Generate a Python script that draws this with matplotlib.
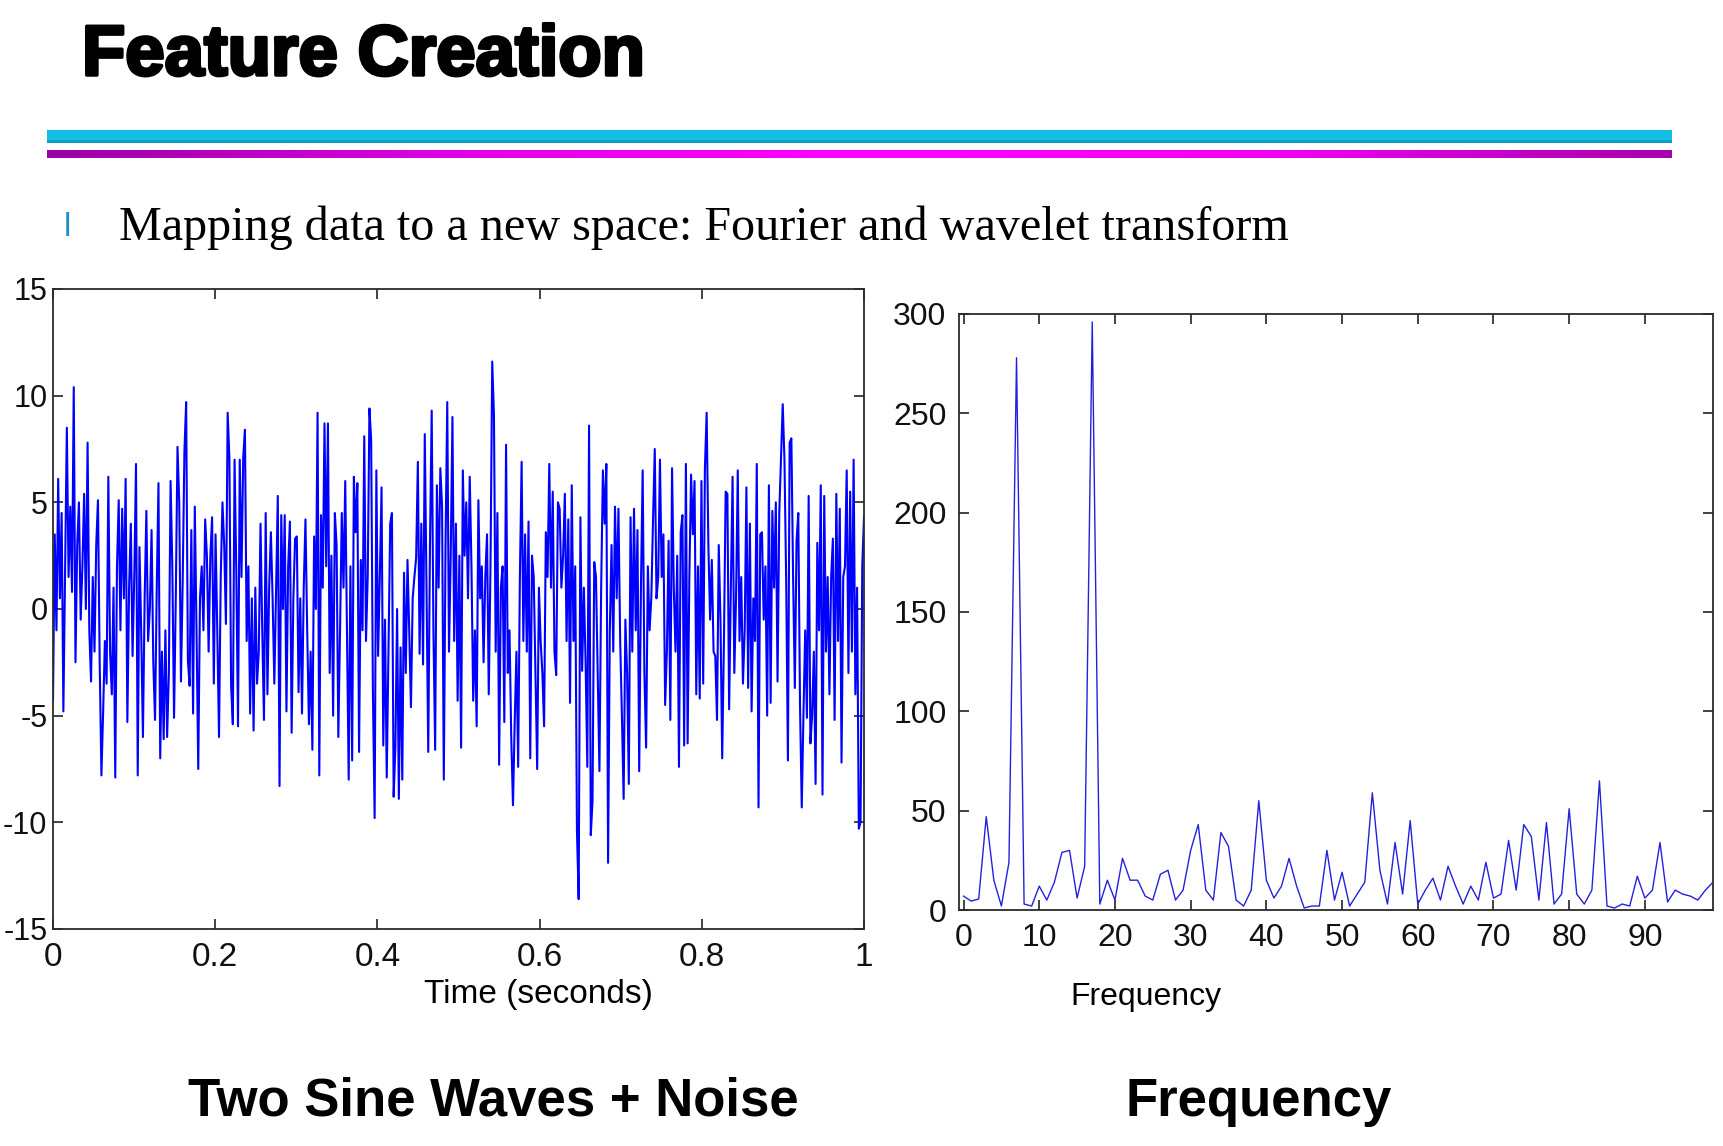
"""
Diapositiva 'Feature Creation': senal con ruido y su espectro de frecuencia.
"""

import numpy as np
import matplotlib
matplotlib.use('Agg')
from matplotlib import pyplot as plt
from matplotlib import patheffects
from matplotlib.patches import Rectangle
from matplotlib.colors import LinearSegmentedColormap

plt.rcParams['axes.unicode_minus'] = False

#%%
# Senal en el tiempo (por tramos de ~0.2 s)

TRAMO_1 = [
    -4.3, 3.5, -1.0, 6.1, 0.5, 4.5, -4.8, 2.0, 8.5, 1.5, 4.8, 0.8, 10.4, -2.5,
    3.0, 5.0, -0.5, 2.0, 5.4, 0.0, 7.8, -1.0, -3.4, 1.5, -2.0, 3.0, 5.1, -2.5,
    -7.8, -4.8, -1.5, -3.5, 6.2, -2.0, -4.0, 1.0, -7.9, 2.0, 5.1, -1.0, 4.7,
    0.5, 6.1, -5.3, 1.0, 4.0, -2.2, 1.5, 6.8, -7.8, 2.9, -1.0, -6.0, 0.5, 4.6,
    -1.5, 0.0, 3.7, -2.5, -5.2, 1.0, 5.9, -7.0, -2.0, -6.1, -1.0, -6.0, -3.0,
    6.0, 2.0, -5.1, 0.5, 7.6, 5.0, -3.4, 1.3, 7.4, 9.7, -2.4, -3.6, 3.7, -4.9,
    4.8, -1.0, -7.5, 0.5, 2.0, -1.0, 4.2, 2.5, -2.0, 2.5, 4.3, -3.5, 3.5, -1.0,
    -6.0, 1.5, 5.0, 3.0, -0.7, 9.2, 7.1, -3.6, -5.4, 7.0, 1.8,
]

TRAMO_2 = [
    -5.5, 7.0, 1.5, 7.1, 8.4, -1.5, 2.0, -4.9, 0.5, -5.7, 1.0, -3.5, -2.0, 4.0,
    -1.0, -5.2, 4.5, -4.0, 1.0, 3.6, 0.5, -3.5, 1.0, 5.3, -8.3, 4.4, 0.0, 4.4,
    -4.8, 2.0, 4.1, -5.8, 0.5, 3.3, 3.4, -3.9, 0.5, -4.9, 1.0, 4.2, -1.0, -5.4,
    -2.0, -6.6, 3.4, 0.0, 9.2, -7.8, 4.4, 1.0, 8.7, 2.0, 8.7, -3.0, 2.5, -5.0,
    4.5, 3.0, -6.0, -1.0, 4.5, 1.0, 6.0, -1.0, -8.0, 2.0, -7.1, 6.2, 3.6, 5.9,
    -6.7, 2.3, -1.0, 8.1, -1.5, 1.5, 9.4, 7.9, -3.9, -9.8, 6.5, -2.2, 1.5, 5.7,
    -6.4, -0.5, -7.9, -2.0, 4.0, 4.5, -8.8, -6.5, 0.0,
]

TRAMO_3 = [
    -8.9, -1.8, -8.0, 1.7, -3.0, 2.3, -1.0, -4.6, 0.5, 1.5, 2.4, 6.9, -2.1, 4.0,
    -2.6, 8.2, 1.0, -6.7, 3.0, 9.3, -1.0, -6.6, 5.8, 1.0, 6.6, 4.8, -8.0, 3.0,
    9.7, -2.0, 2.5, 9.0, -1.5, 4.0, -4.3, 2.5, -6.5, 6.5, 2.5, 5.0, 0.5, 6.2,
    2.0, -4.3, -1.0, -5.5, 5.1, 0.5, 2.0, -2.5, 1.5, 3.5, -4.0, 2.0, 11.6, 9.1,
    -2.0, 4.5, -7.3, 1.0, 2.0, -5.3, 7.7, -3.0, -1.0, -6.0, -9.2, -5.3, -2.0,
    -7.4, 1.5, 6.9, -1.5, 3.5, -2.0, 4.1, -7.0, 2.5, 1.5, -3.0, -7.5, 1.0, -1.5,
    -3.0, -5.5, 3.6, 1.5, 6.8, 1.0, 5.5, -2.0, -3.1, 5.0, 4.7, 1.0, 2.5,
]

TRAMO_4 = [
    5.4, -1.5, 4.2, -4.4, 5.8, -1.5, 2.0, -10.4, -13.6, 4.3, -2.9, 1.0, -2.5,
    -7.4, 8.6, -10.6, -9.0, 2.2, 1.5, -3.0, -7.6, 1.0, 6.5, 4.0, 6.8, -11.9,
    -1.0, 3.0, -2.0, 4.8, 0.5, 4.7, -1.5, -5.0, -8.9, -0.5, -3.0, -8.2, 4.3,
    -2.0, 4.7, -1.0, 3.7, -7.6, 1.0, 6.5, -3.0, -6.5, 2.0, -1.0, 0.5, 4.2, 7.5,
    0.5, 1.5, 7.0, 1.5, 3.5, -4.5, -2.0, 3.2, -5.2, 6.6, 1.0, -2.0, 2.5, -7.4,
    3.6, 4.4, -6.4, 6.8, -6.3, 1.5, 6.3, 3.5, 6.0, -4.0, 2.0, -4.2, 6.0, -3.5,
    6.6, 9.2, 3.0, -0.5, 2.3, -2.0, -2.2, -5.2, 3.0, -0.5, -7.0, -1.5, 5.5,
]

TRAMO_5 = [
    5.4, -4.7, 1.0, 6.2, -3.0, 0.5, 6.5, -1.5, 1.5, -3.5, -1.0, 5.7, -3.7, 4.0,
    -4.8, 0.5, -1.5, 6.8, -9.3, 3.5, 3.6, -0.5, 2.0, -5.0, 5.8, -4.4, 4.6, 1.0,
    5.0, -3.4, 4.5, 7.1, 9.6, 7.0, 1.3, -7.1, 7.8, 8.0, 1.5, -3.7, 3.2, 4.5,
    -4.5, -9.3, -4.9, -1.0, -5.1, 5.3, -6.3, -5.0, -2.0, -8.2, 3.1, -1.0, 5.8,
    -8.7, 5.3, -2.0, 1.5, -4.0, 1.5, 3.3, -5.2, 5.4, -1.5, 4.7, -7.2, 1.5, 2.0,
    6.5, -3.0, 5.5, -2.0, 7.0, -4.0, 1.0, -10.3, -10.0, 2.0, 4.3,
]

# Magnitud del espectro, un valor por cada Hz (0 a 99)
ESPECTRO = [
    7, 4.5, 5.5, 47, 15, 2, 24, 278, 3, 2,
    12, 5, 14, 29, 30, 6, 22, 296, 3, 15,
    5, 26, 15, 15, 7, 5, 18, 20, 5, 10,
    30, 43, 10, 5, 39, 32, 5, 2, 10, 55,
    15, 6, 12, 26, 12, 1, 2, 2, 30, 5,
    19, 2, 8, 14, 59, 20, 3, 34, 8, 45,
    3, 10, 16, 5, 22, 12, 3, 12, 5, 24,
    6, 8, 35, 10, 43, 37, 5, 44, 3, 8,
    51, 8, 3, 10, 65, 2, 1, 3, 2, 17,
    6, 10, 34, 4, 10, 8, 7, 5, 10, 14,
]

TICKS_TIEMPO = [0, 0.2, 0.4, 0.6, 0.8, 1]
ETIQUETAS_TIEMPO = ['0', '0.2', '0.4', '0.6', '0.8', '1']
TICKS_AMPLITUD = [-15, -10, -5, 0, 5, 10, 15]
TICKS_FRECUENCIA = [0, 10, 20, 30, 40, 50, 60, 70, 80, 90]
TICKS_MAGNITUD = [0, 50, 100, 150, 200, 250, 300]

ANCHO, ALTO = 1724, 1146

#%%

def px(x, y):
    """Convierte pixeles de la imagen (origen arriba) a fraccion de figura."""
    return x / ANCHO, 1 - y / ALTO


def estilo_ejes(ax, tam, pad_y=9):
    """Caja estilo MATLAB: ticks hacia adentro en los cuatro lados."""
    for lado in ax.spines.values():
        lado.set_color('#2b2b2b')
        lado.set_linewidth(1.3)
    ax.tick_params(direction='in', length=7, width=1.1, top=True, right=True,
                   labelsize=tam, pad=9, colors='#111111')
    ax.tick_params(axis='y', pad=pad_y)
    for etiqueta in ax.get_xticklabels() + ax.get_yticklabels():
        etiqueta.set_family('Liberation Sans')


def encabezado(fig):
    """Titulo de la diapositiva, barras de color y vineta."""
    x, y = px(82, 75)
    fig.text(x, y, 'Feature Creation', fontsize=51, fontweight='bold',
             family='Liberation Sans', va='baseline',
             path_effects=[patheffects.withStroke(linewidth=2.5,
                                                  foreground='black')])

    # Barra cian
    x0, y0 = px(47, 143)
    fig.add_artist(Rectangle((x0, y0), 1625 / ANCHO, 13 / ALTO,
                             transform=fig.transFigure, color='#14BEE6',
                             lw=0))
    fig.add_artist(Rectangle((x0, y0), 1625 / ANCHO, 3 / ALTO,
                             transform=fig.transFigure, color='#0C9EC4',
                             lw=0))

    # Barra magenta con degradado
    x0, y0 = px(47, 158)
    ax_barra = fig.add_axes([x0, y0, 1625 / ANCHO, 8 / ALTO])
    mapa = LinearSegmentedColormap.from_list(
        'magenta', ['#9A00A4', '#E000E4', '#FF00FF', '#F400F4', '#A800AC'])
    ax_barra.imshow(np.linspace(0, 1, 400).reshape(1, -1), aspect='auto',
                    cmap=mapa)
    ax_barra.set_axis_off()

    x, y = px(64, 236)
    fig.text(x, y, 'l', color='#1A90CF', fontsize=24,
             family='Liberation Sans', va='baseline')
    x, y = px(119, 240)
    fig.text(x, y, 'Mapping data to a new space: Fourier and wavelet transform',
             fontsize=34.7, family='Liberation Serif', va='baseline')


def grafico(fig):
    """Dibuja la senal en el tiempo y su espectro."""
    senal = TRAMO_1 + TRAMO_2 + TRAMO_3 + TRAMO_4 + TRAMO_5
    tiempo = np.linspace(0, 1, len(senal))
    frecuencias = np.arange(len(ESPECTRO))

    # Senal en el tiempo
    x0, y0 = px(53, 929)
    ax1 = fig.add_axes([x0, y0, 811 / ANCHO, 640 / ALTO])
    ax1.plot(tiempo, senal, color='#0000FF', linewidth=1.5)
    ax1.set_xlim(0, 1)
    ax1.set_ylim(-15, 15)
    ax1.set_xticks(TICKS_TIEMPO)
    ax1.set_xticklabels(ETIQUETAS_TIEMPO)
    ax1.set_yticks(TICKS_AMPLITUD)
    ax1.set_yticklabels([str(v) for v in TICKS_AMPLITUD])
    estilo_ejes(ax1, 22, pad_y=4)
    for etiqueta in ax1.get_xticklabels():
        etiqueta.set_fontsize(24)
    ax1.set_xlabel('Time (seconds)', fontsize=24, family='Liberation Sans',
                   va='center')
    ax1.xaxis.set_label_coords(0.598, -0.103)

    # Espectro
    x0, y0 = px(959, 910)
    ax2 = fig.add_axes([x0, y0, 754 / ANCHO, 596 / ALTO])
    ax2.plot(frecuencias, ESPECTRO, color='#2222DD', linewidth=1.0)
    ax2.set_xlim(-0.6, 99)
    ax2.set_ylim(0, 300)
    ax2.set_xticks(TICKS_FRECUENCIA)
    ax2.set_yticks(TICKS_MAGNITUD)
    estilo_ejes(ax2, 23)
    ax2.set_xlabel('Frequency', fontsize=23, family='Liberation Sans',
                   va='center')
    ax2.xaxis.set_label_coords(0.248, -0.146)

    # Rotulos inferiores
    x, y = px(493, 1116)
    fig.text(x, y, 'Two Sine Waves + Noise', fontsize=38, fontweight='bold',
             family='Liberation Sans', ha='center', va='baseline')
    x, y = px(1259, 1116)
    fig.text(x, y, 'Frequency', fontsize=38, fontweight='bold',
             family='Liberation Sans', ha='center', va='baseline')


def main():
    fig = plt.figure(figsize=(ANCHO / 100, ALTO / 100), dpi=100)
    fig.patch.set_facecolor('white')
    encabezado(fig)
    grafico(fig)
    fig.savefig('out.png', dpi=100)
    plt.close(fig)


if __name__ == '__main__':
    main()
